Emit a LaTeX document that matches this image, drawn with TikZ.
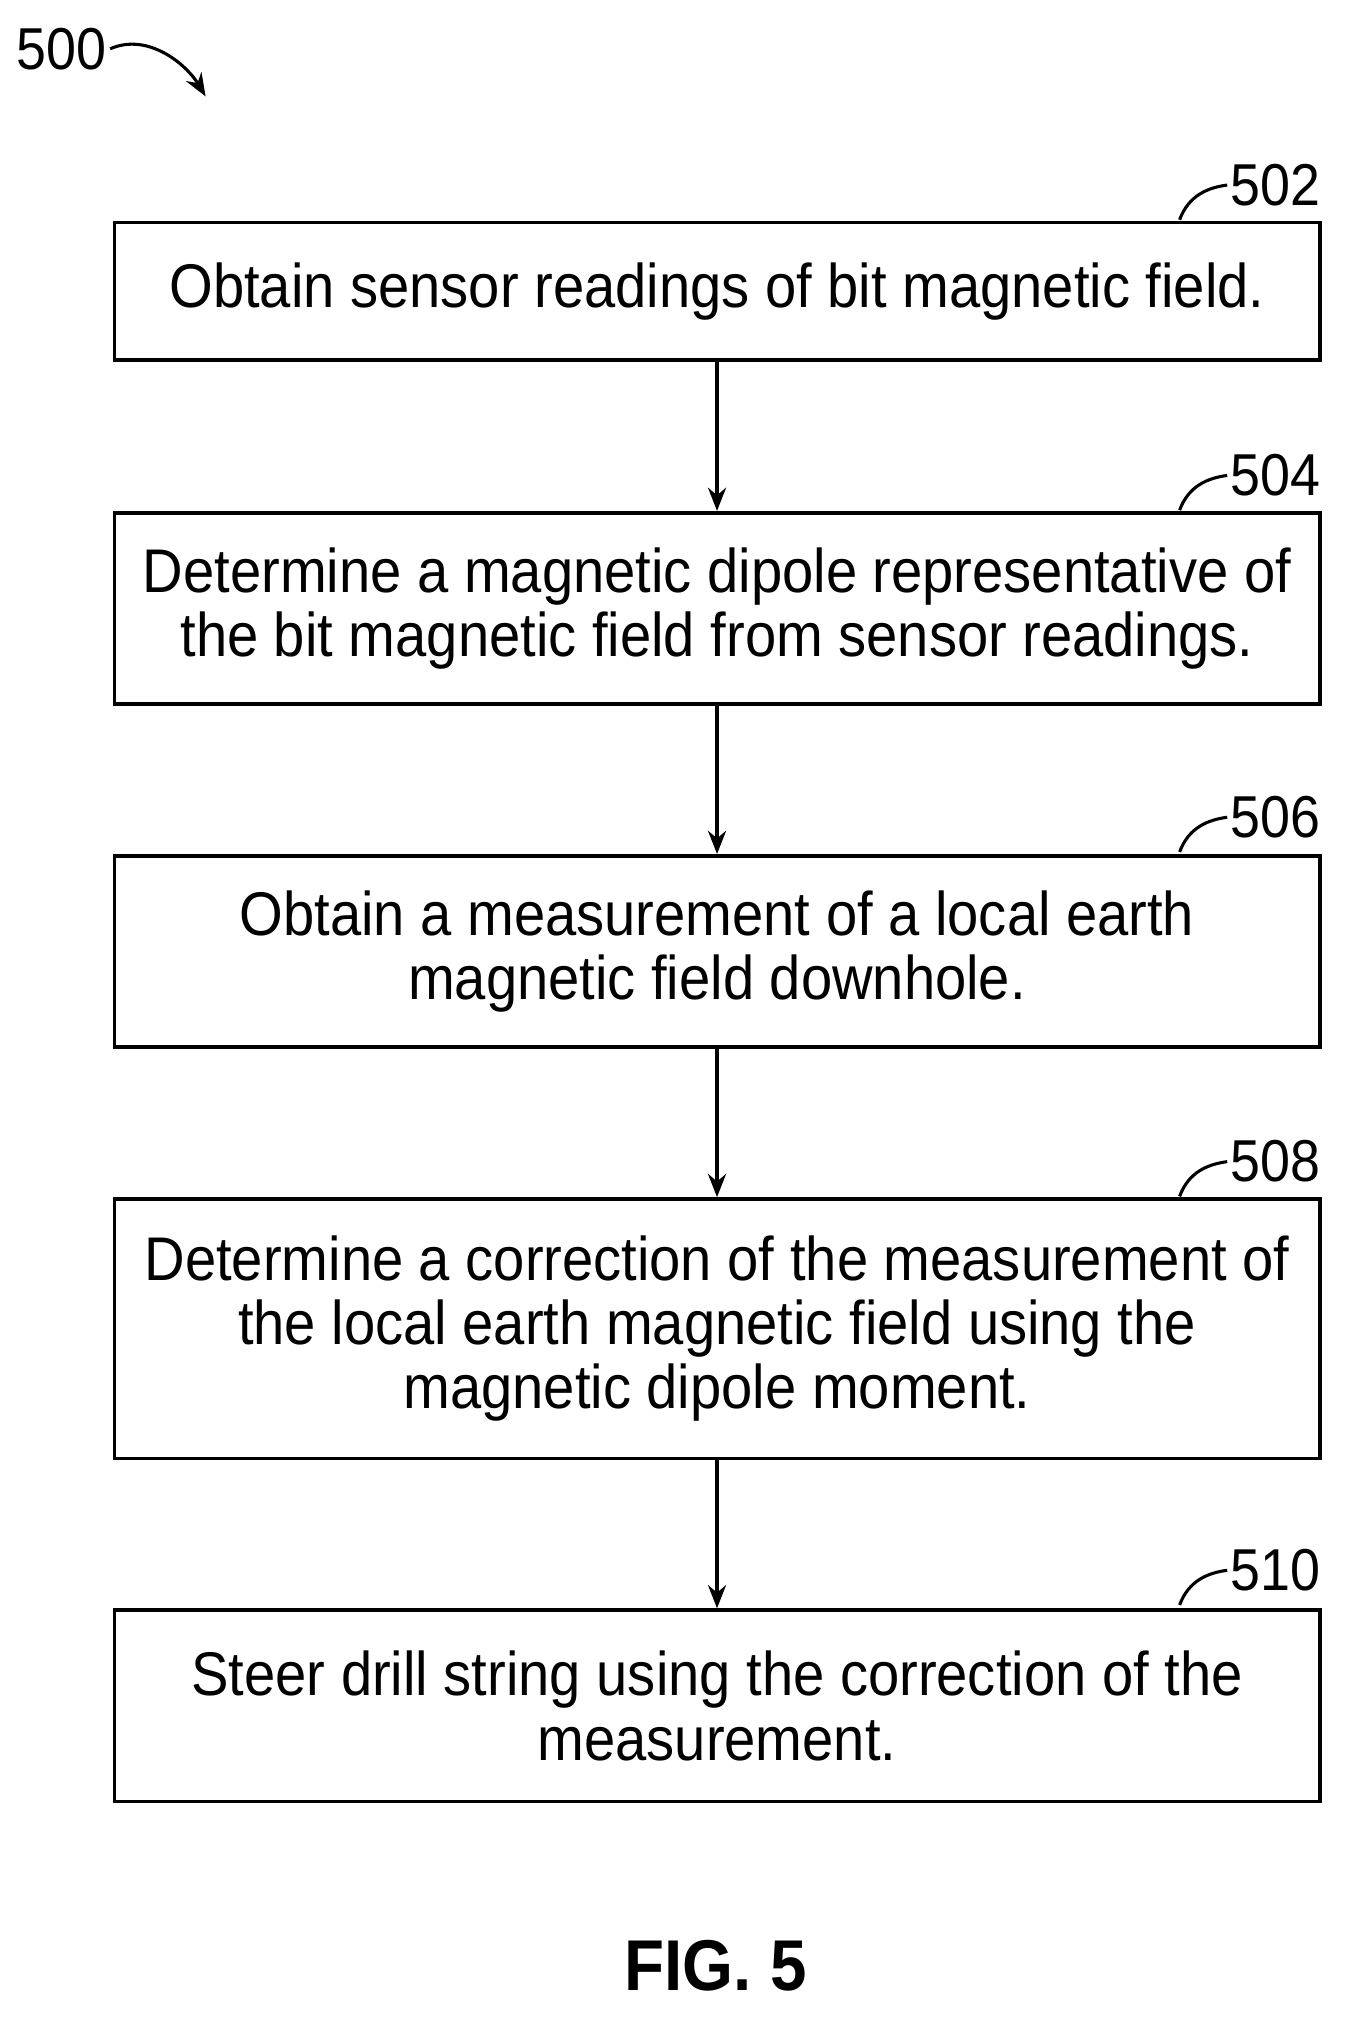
\documentclass[tikz,border=0pt]{standalone}
\usepackage{fontspec}
\setmainfont{Liberation Sans}[FakeStretch=0.91]
\usetikzlibrary{arrows.meta, positioning}

\begin{document}
\begin{tikzpicture}[
	x=0.5pt, y=-0.5pt,
	>={Stealth[length=9pt,width=7pt]},
	thick,
	stepbox/.style={draw, line width=1.4pt, inner sep=0pt, align=center,
		font=\fontsize{24}{25}\selectfont},
	reflabel/.style={font=\fontsize{23}{25}\selectfont, anchor=west, inner sep=1pt}
]
\useasboundingbox (0,0) rectangle (1051,1579);

% steps
\node[stepbox, minimum width=469pt, minimum height=53.5pt] (s502) at (558,226.5) {Obtain sensor readings of bit magnetic field.};
\node[stepbox, minimum width=469pt, minimum height=74.5pt] (s504) at (558,473.5) {Determine a magnetic dipole representative of\\the bit magnetic field from sensor readings.};
\node[stepbox, minimum width=469pt, minimum height=74.5pt] (s506) at (558,740.5) {Obtain a measurement of a local earth\\magnetic field downhole.};
\node[stepbox, minimum width=469pt, minimum height=101pt] (s508) at (558,1034) {Determine a correction of the measurement of\\the local earth magnetic field using the\\magnetic dipole moment.};
\node[stepbox, minimum width=469pt, minimum height=74.5pt] (s510) at (558,1327.5) {Steer drill string using the correction of the\\measurement.};

% reference numerals
\foreach \n/\y in {502/144, 504/370, 506/636, 508/904, 510/1222}{
	\node[reflabel] (l\n) at (955,\y) {\n};
	\draw[line width=1.2pt] (918,\y+27) .. controls (925,\y+8) and (940,\y+2) .. (l\n.west);
}

% flow
\draw[->, line width=1.4pt] (s502) -- (s504);
\draw[->, line width=1.4pt] (s504) -- (s506);
\draw[->, line width=1.4pt] (s506) -- (s508);
\draw[->, line width=1.4pt] (s508) -- (s510);

\node[font=\fontsize{23}{25}\selectfont, inner sep=1pt] (f500) at (48,38) {500};
\coordinate (f500end) at (160,75);
\draw[->, line width=1.2pt] (f500.east) .. controls (115,25) and (145,50) .. (f500end);

\node[font=\fontsize{28}{30}\selectfont\bfseries] (fig) at (557,1530) {FIG. 5};
\end{tikzpicture}
\end{document}
